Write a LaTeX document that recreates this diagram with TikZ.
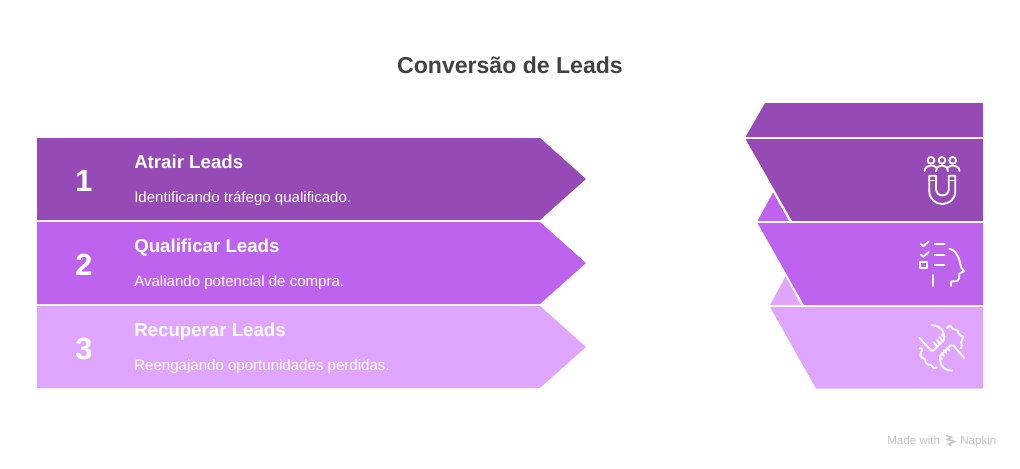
\documentclass[tikz,border=0pt]{standalone}
\usepackage{fontspec}
\setmainfont{Liberation Sans}
\definecolor{cA}{HTML}{964AB6}
\definecolor{cB}{HTML}{BD63ED}
\definecolor{cC}{HTML}{E0A6FF}
\definecolor{ink}{HTML}{424242}
\definecolor{brandgray}{HTML}{C4C4C4}
\tikzset{
  x=0.75pt,y=-0.75pt,
  title/.style={anchor=base,inner sep=0,text=ink,font=\fontsize{17.3pt}{22pt}\selectfont\bfseries},
  num/.style={anchor=base,inner sep=0,text=white,font=\fontsize{23pt}{26pt}\selectfont\bfseries},
  head/.style={anchor=base west,inner sep=0,text=white,font=\fontsize{14pt}{16pt}\selectfont\bfseries},
  sub/.style={anchor=base west,inner sep=0,text=white,font=\fontsize{11.3pt}{14pt}\selectfont},
  brand/.style={anchor=base west,inner sep=0,text=brandgray,font=\fontsize{8.7pt}{10pt}\selectfont},
  icon/.style={draw=white,line width=1.4pt,line cap=round,line join=round}
}
\begin{document}
\begin{tikzpicture}
\useasboundingbox (0,0) rectangle (1020,468);
\node[title] (t) at (510,73) {Conversão de Leads};
% left arrows
\fill[cA] (37,138) -- (540,138) -- (586,179) -- (540,220) -- (37,220) -- cycle;
\fill[cB] (37,222) -- (540,222) -- (586,263) -- (540,304) -- (37,304) -- cycle;
\fill[cC] (37,306) -- (540,306) -- (586,347) -- (540,388) -- (37,388) -- cycle;
\node[num] (n1) at (84,191) {1};
\node[num] (n2) at (84,275) {2};
\node[num] (n3) at (84,359) {3};
\node[head] (h1) at (134,168.5) {Atrair Leads};
\node[head] (h2) at (134,252.5) {Qualificar Leads};
\node[head] (h3) at (134,336.5) {Recuperar Leads};
\node[sub] (s1) at (134,202.5) {Identificando tráfego qualificado.};
\node[sub] (s2) at (134,286.5) {Avaliando potencial de compra.};
\node[sub] (s3) at (134,370.5) {Reengajando oportunidades perdidas.};
% right pieces
\fill[cA] (765,103) -- (983,103) -- (983,137) -- (745.5,137) -- cycle;
\fill[cB] (757.5,221) -- (773,192.5) -- (789,221) -- cycle;
\fill[cA] (745.5,139) -- (983,139) -- (983,221) -- (792,221) -- cycle;
\fill[cC] (770,305) -- (785.5,276.5) -- (801,305) -- cycle;
\fill[cB] (757.5,223) -- (983,223) -- (983,305) -- (804,305) -- cycle;
\fill[cC] (770,307) -- (983,307) -- (983,388.5) -- (816,388.5) -- cycle;
% magnet icon
\draw[icon] (931,160.3) circle (3.4) (942,160.3) circle (3.4) (952.7,160.3) circle (3.4);
\draw[icon] (924.5,171) .. controls (925,167) and (928,165.5) .. (931,165.5) .. controls (933,165.5) and (935,166) .. (936.5,167.5);
\draw[icon] (936,171.5) .. controls (936.5,167) and (939,165.5) .. (942,165.5) .. controls (945,165.5) and (947.5,167) .. (948,171.5);
\draw[icon] (947.5,167.5) .. controls (949,166) and (951,165.5) .. (953,165.5) .. controls (956,165.5) and (959,167) .. (959.5,171);
\draw[icon] (929.3,175.7) -- (936,175.7) -- (936,189) .. controls (936,197.5) and (948.8,197.5) .. (948.8,189) -- (948.8,175.7) -- (955.3,175.7) -- (955.3,191) .. controls (955.3,208.3) and (929.3,208.3) .. (929.3,191) -- cycle;
\draw[icon] (929.3,180.5) -- (936,180.5) (948.8,180.5) -- (955.3,180.5);
% checklist and head icon
\draw[icon] (920.8,244) -- (923.3,246.2) -- (928.7,241.5);
\draw[icon] (920.8,254.5) -- (923.3,256.8) -- (928.7,252);
\draw[icon] (920.3,262) rectangle (926.8,268.3);
\draw[icon] (934.7,244) -- (944.7,244) (934.7,254.7) -- (944.7,254.7) (934.7,265) -- (944.7,265);
\draw[icon] (933.3,275) -- (933.3,286);
\draw[icon] (949.5,248.7) .. controls (955,249.5) and (959.5,257) .. (961,267) -- (964,271.3) -- (959.3,273.7) -- (959.3,278) .. controls (959,280.5) and (957,281.3) .. (955,281.3) -- (951,281.5) -- (951,286);
% hands icon
\draw[icon] (931.7,325.2) .. controls (937,325.3) and (941,328) .. (943,331.5) .. controls (944.5,334.5) and (944.7,337.5) .. (944,340) -- (933.5,350.3) .. controls (932.5,351.2) and (931.5,351) .. (930.5,350) -- (919.3,337.7);
\draw[icon] (936.5,346) -- (934,342.5) (939.5,343.5) -- (937,340) (942.3,340.7) -- (939.5,337.3) (944,336.5) -- (941.5,335);
\draw[icon] (964.2,358) -- (953.5,345.5) .. controls (952.5,344.8) and (951.5,344.8) .. (950.5,345.5) -- (940.3,355.5) .. controls (939.5,358.5) and (939.7,362) .. (941.5,365) .. controls (943.5,368.5) and (947,370.5) .. (952,370.7);
\draw[icon] (949.5,350.5) -- (947,347.7) (946.5,353) -- (944,350) (944,356) -- (941.5,353) (942,359) -- (940,357.5);
\draw[icon] (946.7,328.3) .. controls (948,326) and (950,325.2) .. (951,326.5) .. controls (952,329) and (953.5,330) .. (955.5,329.5) .. controls (958,329) and (958,332) .. (958.5,333.5) .. controls (959,335.5) and (962,335) .. (963,336.5) .. controls (964,339) and (961,340) .. (961,342) .. controls (961,344) and (962.5,345) .. (961.5,347) -- (960.8,348.5);
\draw[icon] (919.5,348.3) .. controls (921,347) and (922.5,348.5) .. (922,350.5) .. controls (921.5,352.5) and (919.5,354) .. (920.5,356.5) .. controls (921.5,358.5) and (924.5,357.5) .. (925,359.5) .. controls (925.5,362) and (925.5,364) .. (928,364.5) .. controls (930,365) and (931,364) .. (932,366) .. controls (933,368) and (934.5,369.5) .. (936.7,367.5);
% brand
\node[brand] (m) at (887,444) {Made with};
\draw[brandgray,line width=1.1pt,line join=round] (946,435.5) -- (952,437.5) -- (946.5,439.5) -- (955,441.5) -- (948,444) -- (951,445.5);
\node[brand] (k) at (960,444) {Napkin};
\end{tikzpicture}
\end{document}
